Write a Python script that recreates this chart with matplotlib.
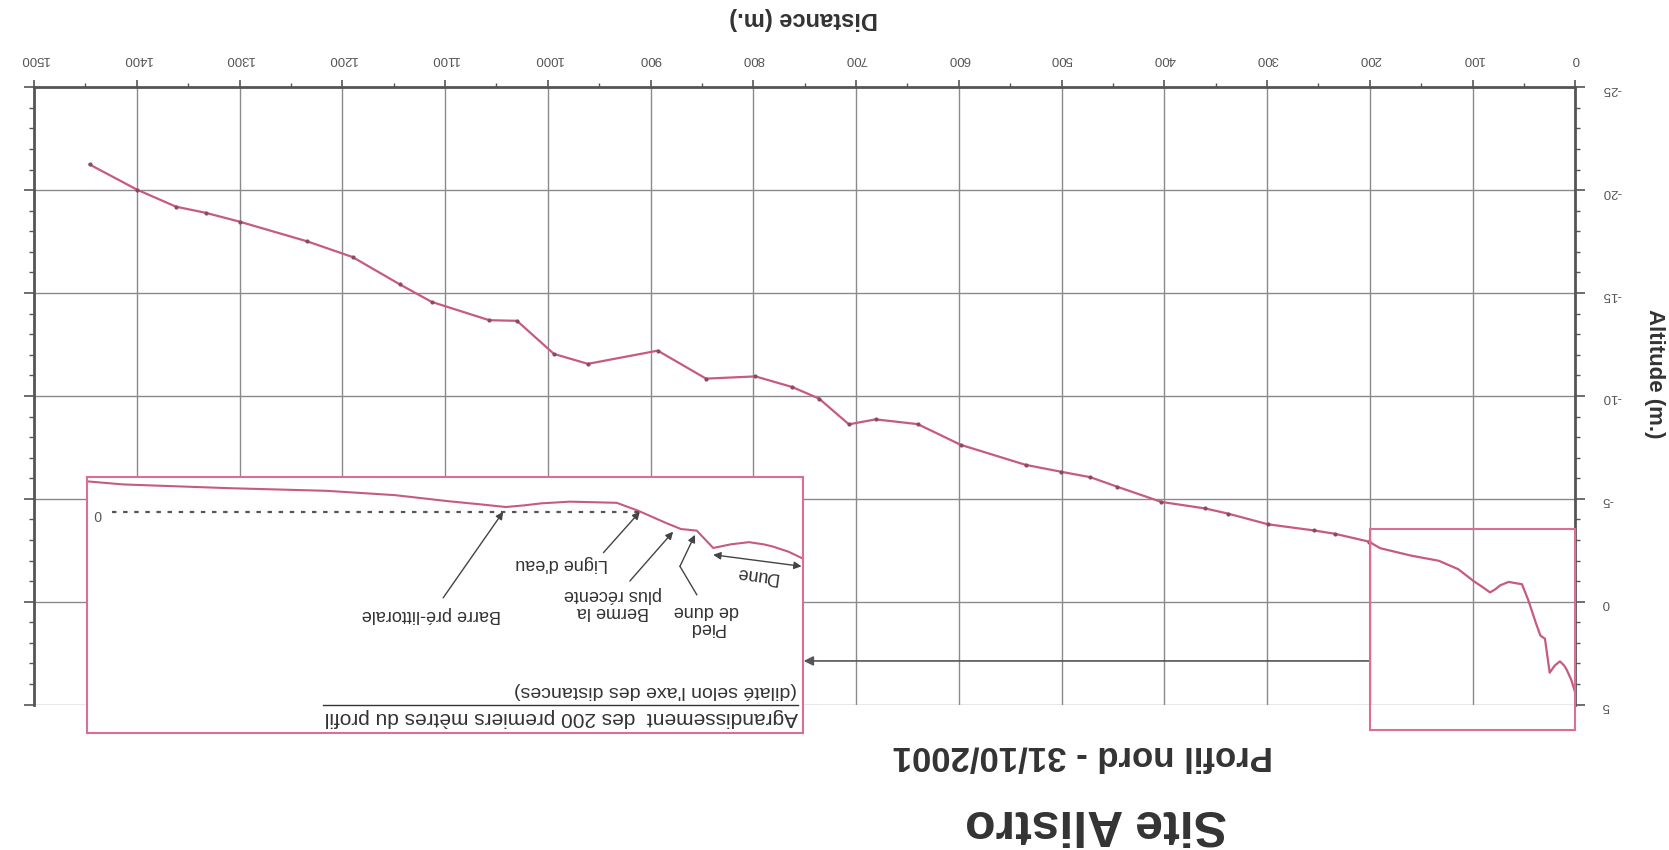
import numpy as np
import matplotlib
matplotlib.use('Agg')
import matplotlib.pyplot as plt
from matplotlib.patches import Rectangle

plt.rcParams['font.family'] = ['Liberation Sans', 'DejaVu Sans']
plt.rcParams['axes.unicode_minus'] = False

# profile points (distance in m, altitude in m)
dist_far = [1446, 1400, 1362, 1333, 1300, 1234, 1190, 1144, 1113, 1057, 1030,
            994, 961, 893, 846, 798, 762, 736, 707, 681, 640, 598, 535, 501,
            472, 446, 403, 360, 338, 299, 254, 234, 201]
alt_far = [-21.25, -20.03, -19.2, -18.9, -18.47, -17.51, -16.75, -15.42, -14.57,
           -13.68, -13.65, -12.04, -11.56, -12.2, -10.84, -10.95, -10.43, -9.87,
           -8.62, -8.86, -8.63, -7.62, -6.65, -6.32, -6.05, -5.59, -4.85, -4.53,
           -4.28, -3.76, -3.46, -3.3, -2.92]

# first 200 m (no markers, more detail)
dist_near = [201, 190, 160, 133, 114, 99, 90, 83, 78, 73, 65, 58, 52, 46, 42,
             38, 34, 31, 29.6, 25, 20, 15, 11, 8.5, 4, 0]
alt_near = [-2.92, -2.6, -2.24, -1.99, -1.58, -1.0, -0.7, -0.45, -0.6, -0.8,
            -0.96, -0.9, -0.85, -0.1, 0.5, 1.1, 1.65, 1.75, 1.8, 3.45, 3.1, 2.9,
            3.1, 3.3, 3.8, 4.45]

x_ticks = list(range(0, 1501, 100))
y_ticks = [-25, -20, -15, -10, -5, 0, 5]

line_col = '#c65a80'
rect_col = '#da6f8f'
txt_col = '#333333'
ax_col = '#555555'

fig = plt.figure(figsize=(16.69, 8.5), dpi=100)
ax = fig.add_axes([0.0204, 0.1711, 0.9235, 0.7262])

ax.set_xlim(1500, 0)
ax.set_ylim(5, -25)
ax.set_xticks(x_ticks)
ax.set_xticks(range(50, 1500, 100), minor=True)
ax.set_yticks(y_ticks)
ax.set_yticks(range(-25, 6), minor=True)
ax.xaxis.set_ticks_position('top')
ax.yaxis.set_ticks_position('both')
ax.tick_params(axis='x', which='major', direction='out', length=5, width=1.2,
               color=ax_col, labelsize=9.5, labelcolor=ax_col, pad=11,
               labelrotation=180)
ax.tick_params(axis='x', which='minor', direction='out', length=3, width=1, color=ax_col)
ax.tick_params(axis='y', which='major', direction='out', length=7, width=1.2,
               color=ax_col, labelsize=9.5, labelcolor=ax_col, pad=12,
               labelleft=False, labelright=True, labelrotation=180)
ax.tick_params(axis='y', which='minor', direction='out', length=3.5, width=1, color=ax_col)

ax.grid(True, which='major', color='#8a8a8a', lw=1.0)
ax.set_axisbelow(True)
for s in ['top', 'left', 'right']:
    ax.spines[s].set_color(ax_col)
    ax.spines[s].set_linewidth(2)
ax.spines['bottom'].set_visible(False)

# main profile
ax.plot(dist_far, alt_far, color=line_col, lw=1.6, marker='o', ms=2,
        mfc='#8a4a60', mec='#8a4a60', zorder=3)
ax.plot(dist_near, alt_near, color=line_col, lw=1.6, zorder=3)

# box around the first 200 m and arrow to the zoom
ax.add_patch(Rectangle((0, -3.55), 200, 9.8, fill=False, ec=rect_col, lw=1.5,
                       clip_on=False, zorder=4))
ax.annotate('', xy=(751, 2.88), xytext=(200, 2.88), annotation_clip=False,
            arrowprops=dict(arrowstyle='-|>', color='#555555', lw=1.2,
                            mutation_scale=14, shrinkA=0, shrinkB=0))

# inset: first 200 m dilated
ins = fig.add_axes([0.0523, 0.1376, 0.4286, 0.3015])
ins.set_zorder(5)
ins.set_facecolor('white')
ins.set_xlim(200, 0)
ins.set_ylim(21.08, -3.33)
ins.set_xticks([])
ins.set_yticks([])
for s in ins.spines.values():
    s.set_color(rect_col)
    s.set_linewidth(1.5)

ins.plot(dist_near, alt_near, color=line_col, lw=1.5)
ins.plot([193, 45.5], [0, 0], color='#555555', lw=1.6, ls=(0, (2, 3)))
ins.text(197, 0.2, '0', rotation=180, ha='center', va='center', fontsize=10, color='#555555')

arr = dict(arrowstyle='-|>', color='#444444', lw=1.0, mutation_scale=11, shrinkA=0, shrinkB=0)
tk = dict(rotation=180, ha='center', va='center', fontsize=13, color=txt_col)

ins.text(103.9, 9.8, 'Barre pré-littorale', **tk)
ins.annotate('', xy=(83.7, 0), xytext=(100.5, 8.2), arrowprops=arr)

ins.text(67.4, 4.9, "Ligne d'eau", **tk)
ins.annotate('', xy=(45.5, 0), xytext=(55.7, 3.9), arrowprops=arr)

ins.text(53, 8.7, 'Berme la\nplus récente', multialignment='center', linespacing=1.0, **tk)
ins.annotate('', xy=(36.2, 1.9), xytext=(48.3, 6.6), arrowprops=arr)

ins.text(26.8, 10.2, 'Pied\nde dune', multialignment='center', linespacing=1.0, **tk)
ins.plot([29.6, 34.3], [7.9, 5.2], color='#444444', lw=1.0)
ins.annotate('', xy=(30.1, 2.2), xytext=(34.3, 5.2), arrowprops=arr)

ins.text(12.9, 6.0, 'Dune', rotation=172.5, ha='center', va='center', fontsize=13, color=txt_col)
ins.annotate('', xy=(0.3, 5.2), xytext=(25, 4.1),
             arrowprops=dict(arrowstyle='<|-|>', color='#444444', lw=1.0,
                             mutation_scale=11, shrinkA=0, shrinkB=0))

ins.text(1.3, 19.6, 'Agrandissement  des 200 premiers mètres du profil',
         rotation=180, ha='right', va='center', fontsize=15, color=txt_col)
ins.plot([1.3, 134], [18.4, 18.4], color=txt_col, lw=1.0)
ins.text(1.7, 17.0, "(dilaté selon l'axe des distances)",
         rotation=180, ha='right', va='center', fontsize=14, color=txt_col)

# titles and axis names (the scan is upside down)
fig.text(0.4815, 0.9788, 'Distance (m.)', rotation=180, ha='center', va='center',
         fontsize=17, fontweight='bold', color=txt_col)
fig.text(0.9916, 0.5605, 'Altitude (m.)', rotation=270, ha='center', va='center',
         fontsize=16, fontweight='bold', color=txt_col)
fig.text(0.6489, 0.1109, 'Profil nord - 31/10/2001', rotation=180, ha='center',
         va='center', fontsize=25, fontweight='bold', color=txt_col)
fig.text(0.6567, 0.032, 'Site Alistro', rotation=180, ha='center', va='center',
         fontsize=36, fontweight='bold', color=txt_col)

fig.savefig('out.png', dpi=100)
